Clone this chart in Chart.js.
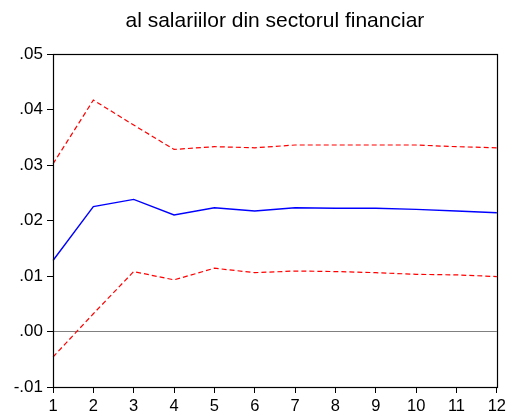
<!DOCTYPE html>
<html>
<head>
<meta charset="utf-8">
<script src="https://cdn.jsdelivr.net/npm/chart.js@4/dist/chart.umd.min.js"></script>
<style>
html,body{margin:0;padding:0;background:#fff;}
#wrap{width:510px;height:416px;}
</style>
</head>
<body>
<div id="wrap"><canvas id="c" width="510" height="416"></canvas></div>
<script>
const periods = ["1","2","3","4","5","6","7","8","9","10","11","12"];
const response = [0.0128,0.0225,0.0238,0.0210,0.0223,0.0217,0.0223,0.0222,0.0222,0.0220,0.0217,0.0214];
const upperBand = [0.0302,0.0417,0.0372,0.0328,0.0333,0.0331,0.0336,0.0336,0.0336,0.0336,0.0333,0.0331];
const lowerBand = [-0.0046,0.0032,0.0108,0.0093,0.0114,0.0106,0.0109,0.0108,0.0106,0.0103,0.0102,0.0099];
const titleText = "al salariilor din sectorul financiar";

const framePlugin = {
  id: 'frame',
  afterDatasetsDraw(chart){
    const {ctx, chartArea:a} = chart;
    ctx.save();
    ctx.strokeStyle = '#000';
    ctx.lineWidth = 1.2;
    ctx.strokeRect(Math.round(a.left)+0.5, Math.round(a.top)+0.5, Math.round(a.right-a.left), Math.round(a.bottom-a.top));
    ctx.restore();
  }
};

new Chart(document.getElementById('c'), {
  type: 'line',
  data: {
    labels: periods,
    datasets: [
      {data: upperBand, borderColor:'#FF0000', borderWidth:1.2, borderDash:[5,3], pointRadius:0, tension:0, fill:false},
      {data: response, borderColor:'#0000FF', borderWidth:1.4, pointRadius:0, tension:0, fill:false},
      {data: lowerBand, borderColor:'#FF0000', borderWidth:1.2, borderDash:[5,3], pointRadius:0, tension:0, fill:false}
    ]
  },
  options: {
    responsive:false,
    animation:false,
    layout:{padding:{left:0,right:12,top:0,bottom:0}},
    plugins:{
      legend:{display:false},
      tooltip:{enabled:false},
      title:{
        display:true, text:titleText, fullSize:false,
        color:'#000', font:{family:'"Liberation Sans", Arial, sans-serif', size:21, weight:'normal', lineHeight:1.2},
        padding:{top:9, bottom:19.8}
      }
    },
    scales:{
      x:{
        type:'category', offset:false,
        grid:{display:true, drawOnChartArea:false, offset:false, tickLength:6, tickColor:'#000'},
        border:{display:true, color:'#000', width:1},
        ticks:{color:'#000', padding:4, maxRotation:0, autoSkip:false, font:{family:'"Liberation Sans", Arial, sans-serif', size:16.5}},
        afterFit(s){ s.height = 29; }
      },
      y:{
        min:-0.01, max:0.05,
        grid:{display:true, drawOnChartArea:true, tickLength:6, tickColor:'#000',
          color: c => (c.tick && Math.abs(c.tick.value) < 1e-9) ? '#808080' : 'rgba(0,0,0,0)', lineWidth:1},
        border:{display:true, color:'#000', width:1},
        ticks:{color:'#000', stepSize:0.01, padding:4,
          font:{family:'"Liberation Sans", Arial, sans-serif', size:17},
          callback: v => { const s = Math.abs(v).toFixed(2).replace(/^0/, ''); return (v < -1e-9 ? '-' : '') + s; }
        },
        afterFit(s){ s.width = 53; }
      }
    }
  },
  plugins:[framePlugin]
});
</script>
</body>
</html>
